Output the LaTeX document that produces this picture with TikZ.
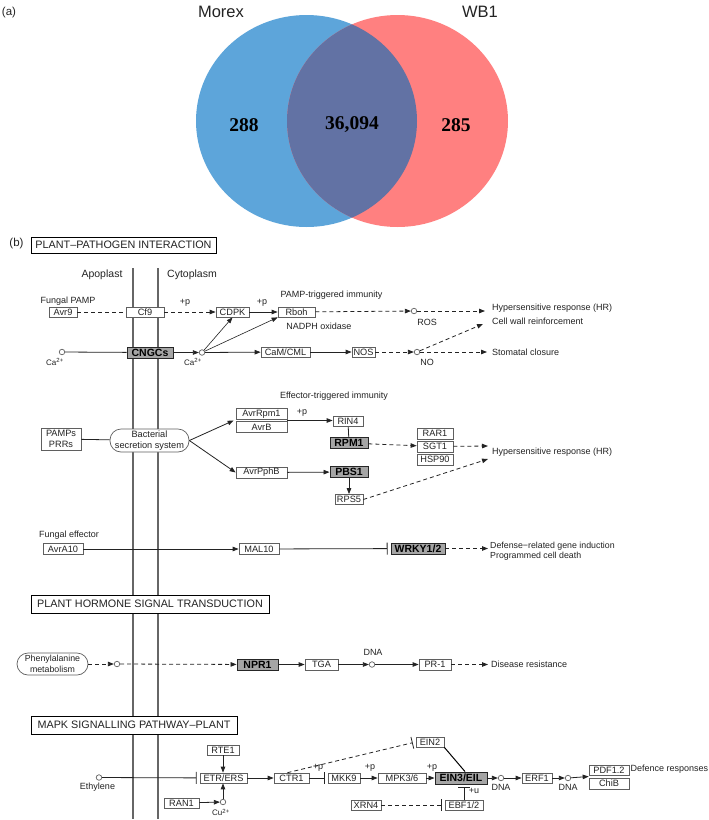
\documentclass[tikz,border=0pt]{standalone}
\usepackage{fontspec}
\setmainfont{Liberation Sans}
\newfontfamily\numfont{Liberation Serif}
\usetikzlibrary{arrows.meta,calc}
\definecolor{vblue}{RGB}{93,165,218}
\definecolor{vred}{RGB}{255,128,128}
\definecolor{vmix}{RGB}{98,114,164}
\definecolor{ink}{RGB}{35,35,35}
\definecolor{edgec}{RGB}{95,95,95}
\definecolor{hl}{RGB}{165,165,165}
\begin{document}
\begin{tikzpicture}[x=1pt,y=-1pt,
  bx/.style={draw=edgec, fill=white, line width=0.7pt, inner sep=0pt, minimum height=10pt, font=\fontsize{9.2}{9.2}\selectfont, text=ink},
  gbx/.style={draw=black!85, fill=hl, line width=0.9pt, inner sep=0pt, minimum height=11pt, font=\bfseries\fontsize{10.5}{10.5}\selectfont, text=black},
  lbl/.style={inner sep=0pt, font=\fontsize{9}{9}\selectfont, text=ink},
  llb/.style={lbl, anchor=west},
  sup/.style={inner sep=0pt, font=\fontsize{8}{8}\selectfont, text=ink},
  cir/.style={circle, draw=edgec, fill=white, inner sep=0pt, minimum size=5.5pt, line width=0.7pt},
  ln/.style={draw=ink, line width=0.8pt},
  ar/.style={ln, -{Triangle[length=6pt,width=4.5pt]}},
  dsh/.style={dash pattern=on 4pt off 3pt},
  inh/.style={ln, -{Bar[width=12pt,line width=0.8pt]}, shorten >=3pt},
  ttl/.style={draw=black, line width=0.9pt, fill=white, inner sep=0pt, font=\fontsize{10.8}{10.8}\selectfont, text=ink},
  memb/.style={draw=black!60, line width=1.6pt},
  vnum/.style={inner sep=0pt, font=\numfont\bfseries\fontsize{19.5}{19.5}\selectfont, text=black},
  vlab/.style={inner sep=0pt, font=\fontsize{16.5}{16.5}\selectfont, text=ink}
]
\useasboundingbox (0,0) rectangle (709,820);
\fill[white] (0,0) rectangle (709,820);

% ---------------- (a) Venn
\node[inner sep=0pt, font=\fontsize{11.5}{11.5}\selectfont, text=ink] (la) at (9,13) {(a)};
\fill[vblue] (306.5,121) ellipse [x radius=110.5, y radius=106];
\fill[vred] (397.5,121) ellipse [x radius=110.5, y radius=106];
\begin{scope}
  \clip (306.5,121) ellipse [x radius=110.5, y radius=106];
  \fill[vmix] (397.5,121) ellipse [x radius=110.5, y radius=106];
\end{scope}
\node[vlab] (morex) at (221,12) {Morex};
\node[vlab] (wb1) at (480,12) {WB1};
\node[vnum] (n1) at (244,125) {288};
\node[vnum] (n2) at (352,125) {36,094};
\node[vnum] (n3) at (456,125) {285};

% ---------------- (b)
\node[inner sep=0pt, font=\fontsize{11.5}{11.5}\selectfont, text=ink] (lb) at (16.5,244) {(b)};

% membranes
\draw[memb] (133,268) -- (133,819);
\draw[memb] (158,268) -- (158,819);

\node[ttl, minimum width=185pt, minimum height=16pt] (t1) at (123.5,245) {PLANT–PATHOGEN INTERACTION};
\node[lbl, font=\fontsize{10.5}{10.5}\selectfont] (apo) at (102,275) {Apoplast};
\node[lbl, font=\fontsize{10.5}{10.5}\selectfont] (cyt) at (192,275) {Cytoplasm};

% PAMP row
\node[lbl] (fpamp) at (68,301) {Fungal PAMP};
\node[bx, minimum width=28pt] (avr9) at (63,312) {Avr9};
\node[bx, minimum width=38pt] (cf9) at (145,312) {Cf9};
\node[bx, minimum width=33pt] (cdpk) at (232.5,312) {CDPK};
\node[bx, minimum width=37pt] (rboh) at (296.5,312) {Rboh};
\node[lbl] (p1) at (185,303) {+p};
\node[lbl] (p2) at (262,303) {+p};
\node[lbl] (pti) at (331.5,295) {PAMP-triggered immunity};
\node[lbl] (nadph) at (319,326) {NADPH oxidase};
\node[cir] (ros) at (414,311) {};
\node[lbl] (rosl) at (427,322) {ROS};
\node[llb] (hr1l) at (492,308) {Hypersensitive response (HR)};
\node[llb] (cwl) at (492,321) {Cell wall reinforcement};
\node[llb] (scl) at (492,352) {Stomatal closure};
\coordinate (hr1) at (485,311);
\coordinate (cw) at (483,324);
\coordinate (sc) at (487,352);

\node[cir] (caL) at (62,352) {};
\node[sup] (caLl) at (55,362) {Ca\textsuperscript{2+}};
\node[gbx, minimum width=46pt] (cngc) at (150,352.5) {CNGCs};
\node[cir] (caR) at (202,352.5) {};
\node[sup] (caRl) at (193,362) {Ca\textsuperscript{2+}};
\node[bx, minimum width=49pt] (caml) at (285.5,352) {CaM/CML};
\node[bx, minimum width=23pt] (nos) at (363.5,352) {NOS};
\node[cir] (no) at (417,352) {};
\node[lbl] (nol) at (427,362) {NO};

\draw[ln,dsh] (avr9) -- (cf9);
\draw[ar,dsh] (cf9) -- (cdpk);
\draw[ar] (cdpk) -- (rboh);
\draw[ar,dsh] (rboh) -- (ros);
\draw[ar,dsh] (ros) -- (hr1);
\draw[ln] (caL) -- (cngc);
\draw[ar] (cngc) -- (caR);
\draw[ar,line width=0.6pt] (caR) -- (cdpk.south);
\draw[ar,line width=0.6pt] (caR) -- (rboh.south west);
\draw[ar] (caR) -- (caml);
\draw[ar] (caml) -- (nos);
\draw[ar,dsh] (nos) -- (no);
\draw[ar,dsh] (no) -- (sc);
\draw[ar,dsh] (no) -- (cw);

% Effector-triggered immunity
\node[lbl] (eti) at (334,396) {Effector-triggered immunity};
\node[bx, minimum width=51pt, minimum height=10.5pt] (avrrpm) at (261.5,414) {AvrRpm1};
\node[bx, minimum width=51pt, minimum height=10.5pt] (avrb) at (261.5,427) {AvrB};
\node[lbl] (p3) at (302,413) {+p};
\node[bx, minimum width=30pt] (rin4) at (348,421.5) {RIN4};
\node[gbx, minimum width=38pt] (rpm1) at (349,443) {RPM1};
\node[gbx, minimum width=38pt] (pbs1) at (349,472) {PBS1};
\node[bx, minimum width=28pt] (rps5) at (349,499.5) {RPS5};
\node[bx, minimum width=51pt, minimum height=11pt] (avrpphb) at (261.5,472.5) {AvrPphB};
\node[bx, minimum width=40pt, minimum height=22pt, align=center, font=\fontsize{9.2}{11}\selectfont] (pamps) at (61,439) {PAMPs\\PRRs};
\node[bx, minimum width=79pt, minimum height=23pt, rounded corners=11pt, align=center, font=\fontsize{9.2}{11}\selectfont] (bss) at (149.5,440.5) {Bacterial\\secretion system};
\node[bx, minimum width=36pt, minimum height=11pt] (rar1) at (435,433.5) {RAR1};
\node[bx, minimum width=36pt, minimum height=11pt] (sgt1) at (435,446.5) {SGT1};
\node[bx, minimum width=36pt, minimum height=11pt] (hsp90) at (435,459.5) {HSP90};
\node[llb] (hr2l) at (492,452) {Hypersensitive response (HR)};
\coordinate (ab) at ($(avrrpm.south west)!0.5!(avrb.north west)$);
\coordinate (abr) at ($(avrrpm.south east)!0.5!(avrb.north east)$);
\coordinate (hr2a) at (488,446);
\coordinate (hr2b) at (488,459);

\draw[ln] (pamps) -- (bss);
\draw[ar] (bss.east) -- ($(ab)+(-2,0)$);
\draw[ar] (bss.east) -- (avrpphb.west);
\draw[ar] (abr) -- (abr -| rin4.west);
\draw[ln] (rin4) -- (rpm1);
\draw[ar] (avrpphb) -- (pbs1);
\draw[ar] (pbs1) -- (rps5);
\draw[ar,dsh] (rpm1) -- (sgt1);
\draw[ar,dsh] (sgt1) -- (hr2a);
\draw[ar,dsh] (rps5.east) -- (hr2b);

% WRKY row
\node[lbl] (feff) at (69,535) {Fungal effector};
\node[bx, minimum width=40pt, minimum height=11pt] (avra10) at (63,549) {AvrA10};
\node[bx, minimum width=40pt, minimum height=11pt] (mal10) at (259,549) {MAL10};
\node[gbx, minimum width=54pt] (wrky) at (418,548.5) {WRKY1/2};
\node[lbl, anchor=west, align=left, font=\fontsize{8.8}{10}\selectfont] (drg) at (490,551) {Defense−related gene induction\\Programmed cell death};
\coordinate (drge) at (488,548.5);
\draw[ar] (avra10) -- (mal10);
\draw[inh] (mal10) -- (wrky);
\draw[ar,dsh] (wrky) -- (drge);

% Plant hormone
\node[ttl, minimum width=238pt, minimum height=18pt] (t2) at (150,604) {PLANT HORMONE SIGNAL TRANSDUCTION};
\node[bx, minimum width=71pt, minimum height=22pt, rounded corners=11pt, align=center, font=\fontsize{8.8}{11}\selectfont] (phe) at (52.5,664) {Phenylalanine\\metabolism};
\node[cir] (cphe) at (117,664) {};
\node[gbx, minimum width=41pt] (npr1) at (257.5,664.5) {NPR1};
\node[bx, minimum width=33pt, minimum height=11pt] (tga) at (321.5,664.5) {TGA};
\node[cir] (dna1) at (372,664.5) {};
\node[lbl] (dna1l) at (373,652) {DNA};
\node[bx, minimum width=32pt, minimum height=11pt] (pr1) at (435,664.5) {PR-1};
\node[llb] (drl) at (491,664) {Disease resistance};
\coordinate (dre) at (488,664.5);
\draw[ar,dsh] (phe) -- (cphe);
\draw[ar,dsh] (cphe) -- (npr1);
\draw[ar] (npr1) -- (tga);
\draw[ar] (tga) -- (dna1);
\draw[ar] (dna1) -- (pr1);
\draw[ar,dsh] (pr1) -- (dre);

% MAPK
\node[ttl, minimum width=206pt, minimum height=18pt] (t3) at (134,725) {MAPK SIGNALLING PATHWAY–PLANT};
\node[bx, minimum width=32pt] (rte1) at (223,750) {RTE1};
\node[bx, minimum width=47pt] (etr) at (223.5,778) {ETR/ERS};
\node[cir] (eth) at (99,777.5) {};
\node[lbl] (ethl) at (97.5,787.5) {Ethylene};
\node[bx, minimum width=35pt] (ctr1) at (291.5,778) {CTR1};
\node[bx, minimum width=32pt] (mkk9) at (344,778) {MKK9};
\node[bx, minimum width=48pt] (mpk) at (402,778) {MPK3/6};
\node[gbx, minimum width=52pt, minimum height=12pt] (ein3) at (461,778) {EIN3/EIL};
\node[bx, minimum width=28pt] (ein2) at (430,742) {EIN2};
\node[bx, minimum width=38pt] (ebf) at (464,805) {EBF1/2};
\node[bx, minimum width=30pt] (xrn4) at (366,805) {XRN4};
\node[cir] (dna2) at (501,778) {};
\node[lbl] (dna2l) at (501,787.5) {DNA};
\node[bx, minimum width=30pt] (erf1) at (537,778) {ERF1};
\node[cir] (dna3) at (568,778) {};
\node[lbl] (dna3l) at (568,787.5) {DNA};
\node[bx, minimum width=40pt] (pdf) at (609,770) {PDF1.2};
\node[bx, minimum width=40pt, minimum height=11pt] (chib) at (609,783.5) {ChiB};
\node[llb] (defl) at (630.5,769) {Defence responses};
\node[bx, minimum width=35pt] (ran1) at (181.5,803) {RAN1};
\node[cir] (cu) at (223,802) {};
\node[sup] (cul) at (221,812.5) {Cu\textsuperscript{2+}};
\node[lbl] (p4) at (318,768) {+p};
\node[lbl] (p5) at (370,768) {+p};
\node[lbl] (p6) at (432,768) {+p};
\node[lbl] (pu) at (474,791) {+u};
\coordinate (pc) at ($(pdf.south west)!0.5!(chib.north west)$);

\draw[ar] (rte1) -- (rte1 |- etr.north);
\draw[inh] (eth) -- (etr);
\draw[ar] (ran1) -- (cu);
\draw[ar] (cu) -- (cu |- etr.south);
\draw[ar] (etr) -- (ctr1);
\draw[inh] (ctr1) -- (mkk9);
\draw[ar] (mkk9) -- (mpk);
\draw[ar] (mpk) -- (ein3);
\draw[inh,dsh] ($(ctr1.north)+(-4,0)$) -- (ein2.west);
\draw[draw=black, line width=1pt] (ein2.south east) -- ($(ein3.north)+(4,0)$);
\draw[inh,dsh] (xrn4) -- (ebf);
\draw[inh] (ebf.north) -- (ebf.north |- ein3.south);
\draw[ar] (ein3) -- (dna2);
\draw[ar] (dna2) -- (erf1);
\draw[ar] (erf1) -- (dna3);
\draw[ar] (dna3) -- (pc);
\end{tikzpicture}
\end{document}
